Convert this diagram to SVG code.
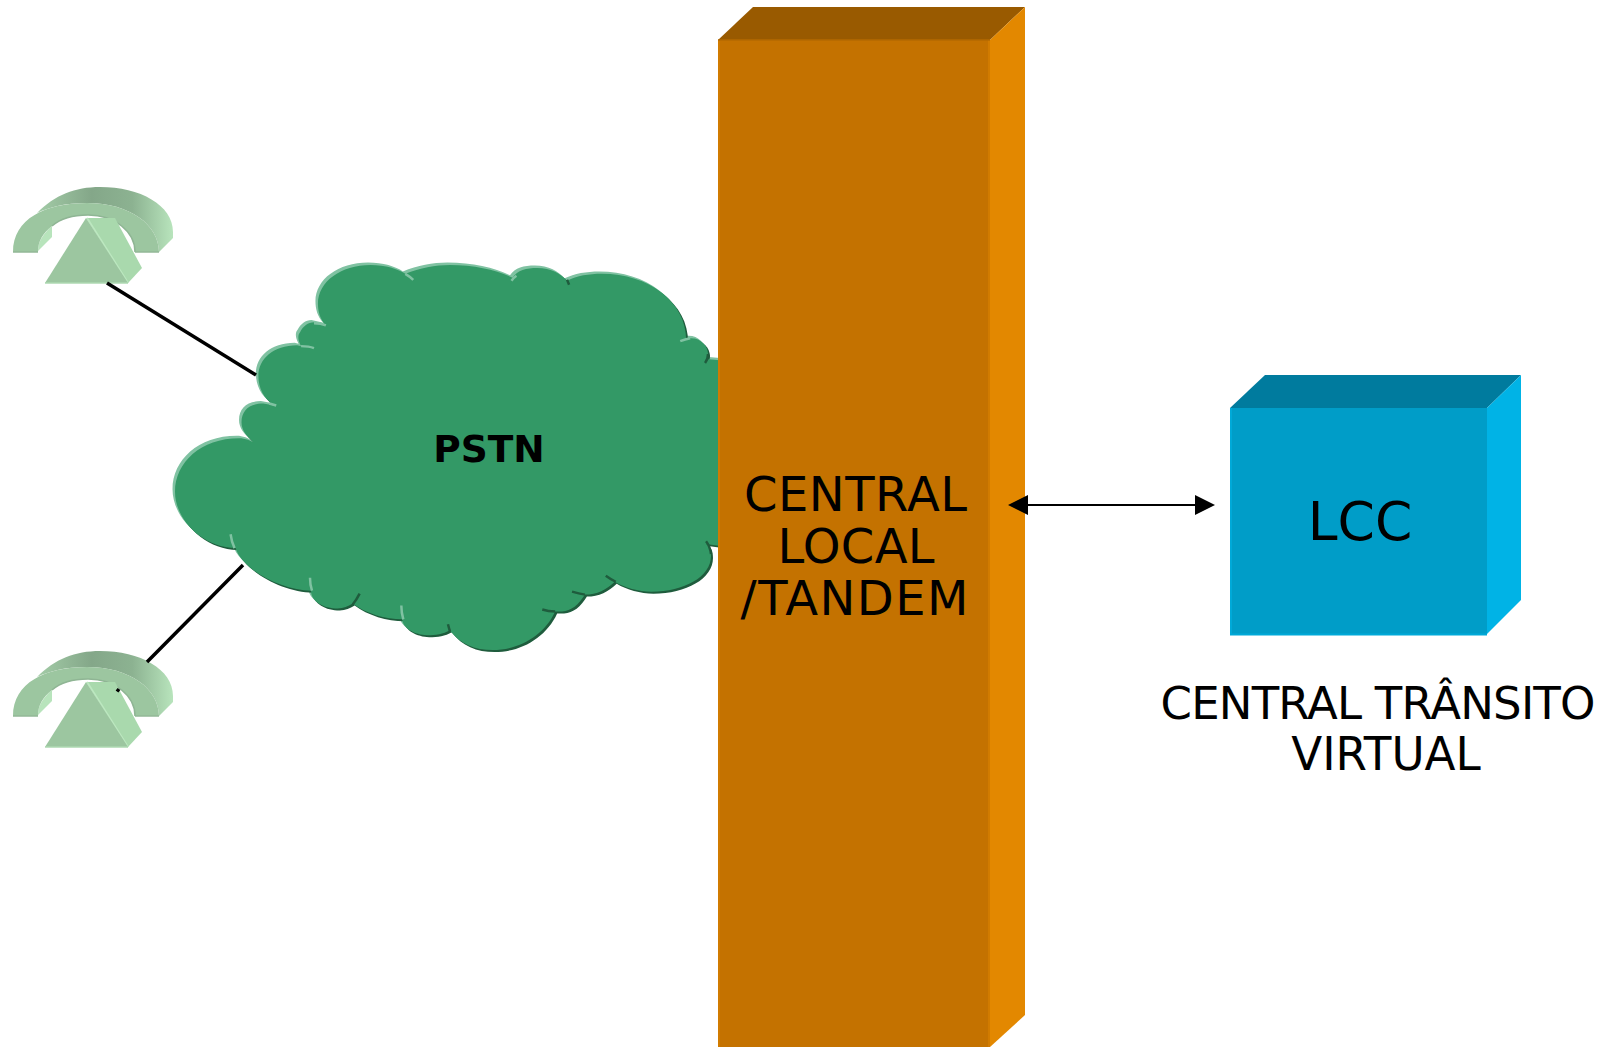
<svg xmlns="http://www.w3.org/2000/svg" xmlns:xlink="http://www.w3.org/1999/xlink" width="1602" height="1047" viewBox="0 0 1602 1047">
<style>
text{font-family:"DejaVu Sans","Liberation Sans",sans-serif;fill:#000;text-anchor:middle}
.wire{fill:none;stroke:#000;stroke-width:3.5}
.link{fill:none;stroke:#000;stroke-width:2}
.lt{fill:none;stroke:#80c2a2;stroke-width:2.500}
.dk{fill:none;stroke:#1f5c3d;stroke-width:2.500}
</style>
<defs>
<linearGradient id="arcBack" gradientUnits="userSpaceOnUse" x1="37" y1="0" x2="173" y2="0">
<stop offset="0" stop-color="#a3cca7"/><stop offset="0.4" stop-color="#84a789"/><stop offset="0.7" stop-color="#8cb291"/><stop offset="1" stop-color="#b8e4bc"/>
</linearGradient>
<marker id="tip" viewBox="0 0 20 20" refX="0" refY="10" markerWidth="20" markerHeight="20" markerUnits="userSpaceOnUse" orient="auto-start-reverse"><path d="M0,0L20,10L0,20Z" fill="#000"/></marker>
<g id="phone">
<path d="M37,213C55,195 75,187 100,187C140,187 173,205 173,232L173,238L159,252C159,225 130,203 87,203C65,203 50,207 37,213Z" fill="url(#arcBack)"/>
<path d="M52,226L52,237L38,251C38,240 45,232 52,226Z" fill="#b8e4bc"/>
<path d="M13,252C13,219 45,203 87,203C130,203 159,225 159,252L135,252C135,232 115,215 88,215C72,215 60,219 52,226C43,233 38,241 38,252Z" fill="#9cc6a0"/>
<path d="M52,226C60,219 72,215 88,215C115,215 135,232 135,252" fill="none" stroke="#8fb594" stroke-width="1.500"/>
<path d="M13,252L38,252M135,252L159,252" fill="none" stroke="#93b897" stroke-width="1.500"/>
<path d="M87,218L115,218L142,268L128,283Z" fill="#a9d9ad"/>
<path d="M87,218L128,283" fill="none" stroke="#bce8c0" stroke-width="2"/>
<path d="M45,283L86,218L128,283Z" fill="#9cc6a0"/>
<path d="M45,283L128,283" fill="none" stroke="#aed8b2" stroke-width="1.500"/>
</g>
<path id="cloudShape" d="M173,492C173,462 200,437 240,438Q247,439 252,442C245,436 240,430 240,422C240,410 248,403 262,403L273,405C262,398 257,387 257,375C257,358 272,344 296,344L300,345C296,338 297,333 299,331C302,325 307,321 313,321L325,324C319,318 317,310 317,302C317,280 340,263 370,263C385,263 398,267 405,272C420,266 435,263 450,263C475,263 497,268 513,276C518,268 527,266 538,266C552,266 562,272 568,279C578,274 590,272 603,272C650,272 688,300 688,339C690,337 691,337 693,337C703,337 710,345 710,353C710,356 709,358 708,358L730,360L730,548L708,545C712,547 713,552 713,557C713,578 686,593 653,593C640,593 626,589 616,583C608,591 598,596 586,596C580,606 572,613 563,613L556,613C545,637 520,652 493,652C475,652 460,646 450,632C443,636 436,637 427,637C415,637 402,630 402,621C385,621 365,615 352,605C347,608 343,610 337,610C323,610 310,603 310,592C280,592 240,570 234,549C200,548 173,520 173,492Z"/>
</defs>

<g id="phone-top"><use xlink:href="#phone" href="#phone"/></g>
<g id="phone-bottom"><use xlink:href="#phone" href="#phone" transform="translate(0,464)"/></g>

<g id="cloud-pstn">
<g transform="translate(444,457.500) scale(.9926,.99) translate(-444,-457.500)">
<use xlink:href="#cloudShape" href="#cloudShape" fill="#80c2a2" transform="translate(-2.500,-2.500)"/>
<use xlink:href="#cloudShape" href="#cloudShape" fill="#1f5c3d" transform="translate(2,2)"/>
<use xlink:href="#cloudShape" href="#cloudShape" fill="#339966"/>
<path class="lt" d="M405,272Q410,275 413,278M268,403L275,405M300,345Q308,345 313,347M313,322Q320,322 325,324M229,535Q230,543 233,549M309,579Q309,586 311,592M401,607Q401,614 403,621M512,279Q514,276 517,274M682,340Q687,338 692,337"/>
<path class="dk" d="M710,353Q710,358 707,362M359,595Q356,601 352,606M448,626Q449,630 450,633M607,577Q611,580 617,583M573,593Q580,595 586,596M543,611Q549,613 556,613M708,542Q712,547 713,555M568,278L570,283"/>
</g>
<text x="489" y="462" font-size="37.500" font-weight="700">PSTN</text>
</g>

<g id="central-local">
<path d="M718,40L753,7H1025L990,40Z" fill="#995a00"/>
<path d="M990,40L1025,7V1015L990,1047Z" fill="#e38800"/>
<rect x="718" y="40" width="272" height="1007" fill="#c47200"/>
<path d="M719,40V1047M989,40V1047" stroke="#d17b00" stroke-width="2" fill="none"/>
<path d="M718,40H990" stroke="#b56a00" stroke-width="1.500" fill="none"/>
<text x="855.500" y="510.500" font-size="48" textLength="223">CENTRAL</text>
<text x="856" y="562.500" font-size="48" textLength="157">LOCAL</text>
<text x="854.500" y="615" font-size="48" textLength="228">/TANDEM</text>
</g>

<g id="lcc">
<path d="M1230,408L1265,375H1521L1487,408Z" fill="#007b9e"/>
<path d="M1487,408L1521,375V600L1487,634Z" fill="#00b3e6"/>
<rect x="1230" y="408" width="257" height="226.500" fill="#009dc8"/>
<path d="M1231,408V634.500H1487" stroke="#00a9d8" stroke-width="2" fill="none"/>
<text x="1360" y="540" font-size="53.500">LCC</text>
</g>

<g id="label-central-transito">
<text x="1378" y="719" font-size="45" textLength="435">CENTRAL TRÂNSITO</text>
<text x="1386" y="770" font-size="45.300">VIRTUAL</text>
</g>

<g id="connectors">
<path class="wire" d="M107,283L256,375"/>
<path class="wire" d="M243,565L147,662M119,689L117,691.500"/>
<path class="link" d="M1028,505H1195" marker-start="url(#tip)" marker-end="url(#tip)"/>
</g>
</svg>
